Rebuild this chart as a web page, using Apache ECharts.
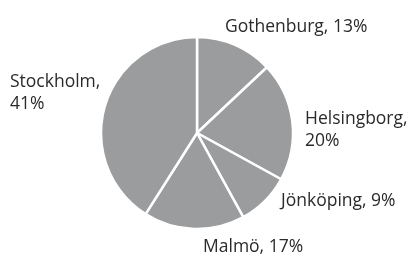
<!DOCTYPE html>
<html>
<head>
<meta charset="utf-8">
<script src="https://cdn.jsdelivr.net/npm/echarts@6/dist/echarts.min.js"></script>
<style>
  html, body { margin: 0; padding: 0; background: #ffffff; }
  #chart { width: 411px; height: 255px; }
</style>
</head>
<body>
<div id="chart"></div>
<script>
const cities = ['Gothenburg', 'Helsingborg', 'Jönköping', 'Malmö', 'Stockholm'];
const shares = [13, 20, 9, 17, 41];
// labels that wrap onto a second line
const wrapped = [false, true, false, false, true];

// label anchors (left edge, vertical middle)
const labelX = [225, 305, 281, 203, 10];
const labelY = [27, 130, 201, 247, 93];

const chart = echarts.init(document.getElementById('chart'), null, { renderer: 'canvas' });

chart.setOption({
  animation: false,
  series: [{
    type: 'pie',
    center: [197, 133],
    radius: 96,
    startAngle: 90,
    clockwise: true,
    itemStyle: {
      color: '#9a9c9e',
      borderColor: '#ffffff',
      borderWidth: 2.5,
    },
    label: {
      show: true,
      position: 'outside',
      color: '#2a2a2a',
      fontFamily: 'Open Sans',
      fontSize: 17.5,
      lineHeight: 22,
      overflow: 'none',
      width: 200,
      formatter: (p) => p.name + ',' + (wrapped[p.dataIndex] ? '\n' : ' ') + p.value + '%',
    },
    labelLine: { show: false },
    labelLayout: (params) => ({
      x: labelX[params.dataIndex],
      y: labelY[params.dataIndex],
      align: 'left',
      verticalAlign: 'middle',
    }),
    data: cities.map((name, i) => ({ name, value: shares[i] })),
  }],
});
</script>
</body>
</html>
